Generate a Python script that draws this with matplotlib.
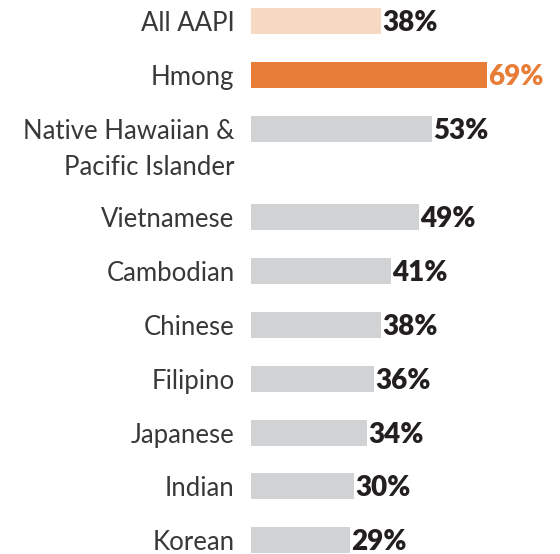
import matplotlib
matplotlib.use("Agg")
import matplotlib.pyplot as plt

# Datos del grafico
grupos = ["All AAPI", "Hmong", "Native Hawaiian &\nPacific Islander", "Vietnamese",
          "Cambodian", "Chinese", "Filipino", "Japanese", "Indian", "Korean"]
valores = [38, 69, 53, 49, 41, 38, 36, 34, 30, 29]
etiquetas = ["38%", "69%", "53%", "49%", "41%", "38%", "36%", "34%", "30%", "29%"]

colores = ["#F7D8C0", "#E87D37"] + ["#D1D2D4"] * 8
color_texto = ["#231F20", "#E87D37"] + ["#231F20"] * 8

# Posiciones verticales en pixeles (hay un hueco extra despues de la fila de dos lineas)
paso = 53.8
pos = []
y = 21
for i in range(len(grupos)):
    pos.append(y)
    y += paso
    if i == 2:
        y += 35

fig = plt.figure(figsize=(5.6, 5.54), dpi=100)
x0 = 251 / 560
ax = fig.add_axes([x0, 0, 1 - x0, 1])
escala = 3.42  # px por punto porcentual
ax.set_xlim(0, (560 - 251) / escala)
ax.set_ylim(554, 0)
ax.axis("off")

ax.barh(pos, valores, height=26, color=colores, left=0)

for p, v, e, c in zip(pos, valores, etiquetas, color_texto):
    ax.text(v + 0.4, p - 0.5, e, ha="left", va="center_baseline", fontsize=20,
            fontfamily="Lato", fontweight="heavy", color=c)

# Etiquetas de la izquierda, una linea por texto
for p, g in zip(pos, grupos):
    for k, linea in enumerate(g.split("\n")):
        ax.text(-16.5 / escala, p + k * 36, linea, ha="right", va="center_baseline",
                fontsize=18.5, fontfamily="Lato", fontweight="normal", color="#383838",
                clip_on=False)

fig.savefig("out.png", dpi=100)
